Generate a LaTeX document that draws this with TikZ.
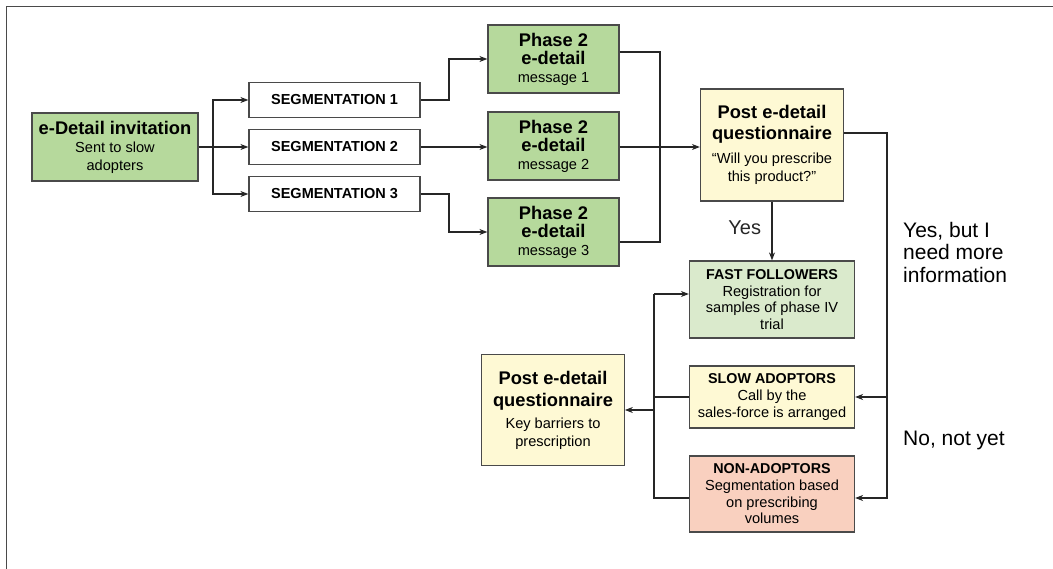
\documentclass[tikz,border=0pt]{standalone}
\usepackage{fontspec}
\setmainfont{Liberation Sans}
\usetikzlibrary{arrows.meta}

\definecolor{phasegreen}{HTML}{B6D99C}
\definecolor{paleyellow}{HTML}{FEF9D4}
\definecolor{palegreen}{HTML}{DAEACC}
\definecolor{salmon}{HTML}{F9D0BF}
\definecolor{boxline}{HTML}{4A4A4A}

\newcommand{\headline}[1]{{\fontsize{18.3}{20}\selectfont\bfseries #1}}
\newcommand{\capline}[1]{{\fontsize{14.3}{17}\selectfont\bfseries #1}}

\tikzset{
  box/.style={draw=boxline, line width=1.2pt, align=center, inner sep=0pt,
    font=\fontsize{14.6}{18}\selectfont},
  greenbox/.style={box, fill=phasegreen},
  yellowbox/.style={box, fill=paleyellow},
  segbox/.style={box, fill=white, minimum width=171pt, minimum height=35pt,
    font=\fontsize{14.5}{17}\selectfont\bfseries},
  lbl/.style={inner sep=0pt, align=left, font=\fontsize{21}{22.5}\selectfont},
  link/.style={line width=2pt, black!85},
  arr/.style={link, -{Stealth[length=8pt,width=6pt]}}
}

\begin{document}
\begin{tikzpicture}[x=1pt,y=-1pt]
            \useasboundingbox (0,0) rectangle (1053,569);
            \draw[boxline, line width=1.5pt] (6.5,569) -- (6.5,6.5) -- (1053,6.5);

            % left part
            \node[greenbox, minimum width=166pt, minimum height=68pt] (invite) at (115,147)
                {\headline{e-Detail invitation}\\Sent to slow\\adopters};
            \node[segbox] (seg1) at (334.5,100) {SEGMENTATION 1};
            \node[segbox] (seg2) at (334.5,147) {SEGMENTATION 2};
            \node[segbox] (seg3) at (334.5,194) {SEGMENTATION 3};

            \node[greenbox, minimum width=131pt, minimum height=68pt] (ph1) at (553.5,59)
                {\headline{Phase 2}\\\headline{e-detail}\\message 1};
            \node[greenbox, minimum width=131pt, minimum height=68pt] (ph2) at (553.5,146)
                {\headline{Phase 2}\\\headline{e-detail}\\message 2};
            \node[greenbox, minimum width=131pt, minimum height=68pt] (ph3) at (553.5,232)
                {\headline{Phase 2}\\\headline{e-detail}\\message 3};

            \node[yellowbox, minimum width=143pt, minimum height=112pt] (quest) at (772,145)
                {\headline{Post e-detail}\\[3pt]\headline{questionnaire}\\[6pt]“Will you prescribe\\this product?”};

            % outcomes
            \node[box, fill=palegreen, minimum width=165pt, minimum height=77pt,
                font=\fontsize{14.6}{16.7}\selectfont] (fast) at (772,299.5)
                {\capline{FAST FOLLOWERS}\\Registration for\\samples of phase IV\\trial};
            \node[yellowbox, minimum width=165pt, minimum height=62pt,
                font=\fontsize{14.6}{16.7}\selectfont] (slow) at (772,397)
                {\capline{SLOW ADOPTORS}\\Call by the\\sales-force is arranged};
            \node[box, fill=salmon, minimum width=165pt, minimum height=76pt,
                font=\fontsize{14.6}{16.7}\selectfont] (non) at (772,494)
                {\capline{NON-ADOPTORS}\\Segmentation based\\on prescribing\\volumes};
            \node[yellowbox, minimum width=142.5pt, minimum height=111pt] (barriers) at (553,410)
                {\headline{Post e-detail}\\[4pt]\headline{questionnaire}\\[4pt]Key barriers to\\prescription};

            \node[lbl, anchor=west] (needmore) at (903,252) {Yes, but I\\need more\\information};
            \node[lbl, anchor=west] (notyet) at (903,440) {No, not yet};

            % connectors
            \draw[arr] (invite.east) -- ++(14,0) |- (seg1.west);
            \draw[arr] (invite.east) -- (invite.east -| seg2.west);
            \draw[arr] (invite.east) -- ++(14,0) |- (seg3.west);

            \draw[arr] (seg1.east) -- ++(28,0) |- (ph1.west);
            \draw[arr] (seg2.east) -- (seg2.east -| ph2.west);
            \draw[arr] (seg3.east) -- ++(28,0) |- (ph3.west);

            \coordinate (merge) at (660,147);
            \draw[link] ([yshift=7pt]ph1.east) -| (merge) |- ([yshift=-10pt]ph3.east);
            \draw[arr] (ph2.east |- merge) -- (merge -| quest.west);

            \draw[arr] (quest.south) -- (fast.north)
                node[pos=0.45, left=10pt, inner sep=0pt, font=\fontsize{20}{22}\selectfont] (yes) {Yes};

            \coordinate (rbus) at (887,498);
            \draw[arr] ([yshift=12pt]quest.east) -| (rbus) -- (rbus -| non.east);
            \draw[arr] (rbus |- slow.east) -- (slow.east);

            \coordinate (lbus) at (654,294);
            \draw[arr] (lbus) -- (lbus -| fast.west);
            \draw[link] (slow.west) -- (slow.west -| lbus);
            \draw[link] ([yshift=-4pt]non.west) -| (lbus);
            \draw[arr] (lbus |- barriers.east) -- (barriers.east);
        \end{tikzpicture}
\end{document}
